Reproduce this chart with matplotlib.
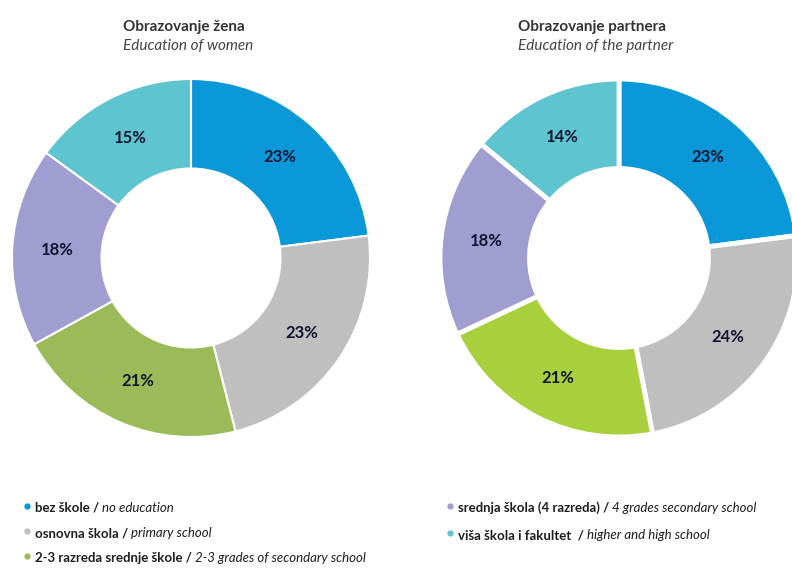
import matplotlib.pyplot as plt
import numpy as np

plt.rcParams['font.family'] = ['Lato', 'DejaVu Sans']

women = [23, 23, 21, 18, 15]
partner = [23, 24, 21, 18, 14]
colors_women = ['#0a98d8', '#bfbfbf', '#9bbb59', '#a09dd0', '#5ec5d0']
colors_partner = ['#0a98d8', '#bfbfbf', '#a8cf3c', '#a09dd0', '#5ec5d0']

labels_hr = ['bez škole', 'osnovna škola', '2-3 razreda srednje škole',
             'srednja škola (4 razreda)', 'viša škola i fakultet ']
labels_en = ['no education', 'primary school', '2-3 grades of secondary school',
             '4 grades secondary school', 'higher and high school']

titles_hr = ['Obrazovanje žena', 'Obrazovanje partnera']
titles_en = ['Education of women', 'Education of the partner']

txt = '#1e1e1e'
pct_col = '#141430'

fig = plt.figure(figsize=(7.92, 5.68), dpi=100)

def donut(rect, vals, cols, lw):
    ax = fig.add_axes(rect)
    wedges, texts = ax.pie(vals, colors=cols, startangle=90, counterclock=False,
                           radius=1, wedgeprops=dict(width=0.5, edgecolor='white', linewidth=lw))
    for w, v in zip(wedges, vals):
        ang = np.deg2rad((w.theta1 + w.theta2) / 2)
        ax.text(0.75 * np.cos(ang), 0.75 * np.sin(ang), f'{v}%', ha='center', va='center',
                fontsize=12, fontweight='bold', color=pct_col)
    ax.set_xlim(-1, 1)
    ax.set_ylim(-1, 1)
    ax.set_aspect('equal')
    ax.axis('off')
    return ax

donut([12 / 792, 131 / 568, 358 / 792, 358 / 568], women, colors_women, 1.5)
donut([440 / 792, 131 / 568, 358 / 792, 358 / 568], partner, colors_partner, 3.5)

# titles
for x, hr, en in [(123, titles_hr[0], titles_en[0]), (518, titles_hr[1], titles_en[1])]:
    fig.text(x / 792, 1 - 27 / 568, hr, fontsize=11, fontweight='bold', color='#333333',
             ha='left', va='center')
    fig.text(x / 792, 1 - 46 / 568, en, fontsize=11, style='italic', color='#444444',
             ha='left', va='center')

# legend
fig.canvas.draw()
rend = fig.canvas.get_renderer()
leg_pos = [(27, 508), (27, 533), (27, 558), (450, 508), (450, 535)]
for (x, y), hr, en, c in zip(leg_pos, labels_hr, labels_en, colors_women):
    fig.lines.append(plt.Line2D([x / 792], [1 - (y - 2) / 568], marker='o', markersize=3.5,
                                color=c, transform=fig.transFigure, linestyle='none'))
    t1 = fig.text((x + 8) / 792, 1 - y / 568, hr + ' / ', fontsize=9.5, fontweight='bold',
                  color=txt, ha='left', va='center')
    bb = t1.get_window_extent(rend)
    fig.text(bb.x1 / 792, 1 - y / 568, en, fontsize=9.5, style='italic',
             color=txt, ha='left', va='center')

fig.savefig('out.png', dpi=100)
